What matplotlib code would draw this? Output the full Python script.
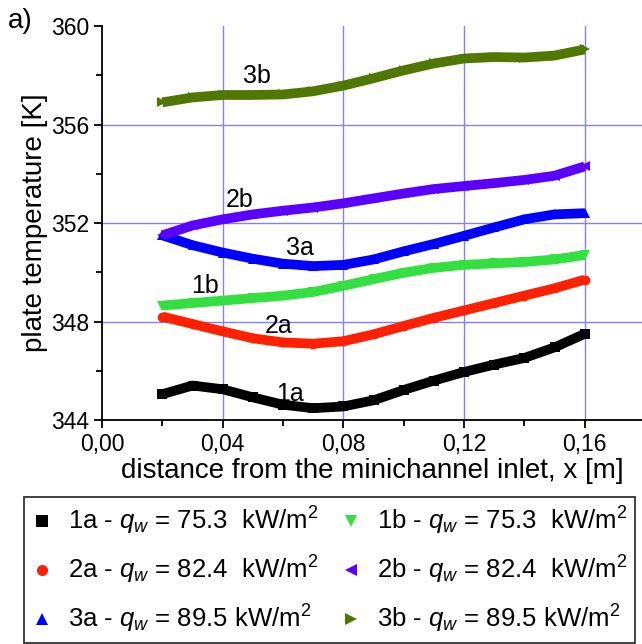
import matplotlib
matplotlib.use("Agg")
import matplotlib.pyplot as plt
from matplotlib.lines import Line2D

plt.rcParams['font.family'] = ['Liberation Sans', 'DejaVu Sans']
plt.rcParams['mathtext.fontset'] = 'custom'
plt.rcParams['mathtext.rm'] = 'Liberation Sans'
plt.rcParams['mathtext.it'] = 'Liberation Sans:italic'

# distance from inlet [m]
x = [0.02, 0.03, 0.04, 0.05, 0.06, 0.07, 0.08, 0.09, 0.10, 0.11, 0.12, 0.13, 0.14, 0.15, 0.16]

# plate temperature [K]
t_1a = [345.05, 345.40, 345.25, 344.92, 344.62, 344.48, 344.55, 344.80, 345.22, 345.60, 345.95, 346.25, 346.52, 346.95, 347.50]
t_2a = [348.20, 347.90, 347.60, 347.32, 347.15, 347.10, 347.20, 347.48, 347.82, 348.15, 348.45, 348.75, 349.05, 349.35, 349.70]
t_3a = [351.50, 351.10, 350.80, 350.55, 350.35, 350.25, 350.30, 350.52, 350.85, 351.15, 351.48, 351.82, 352.15, 352.35, 352.40]
t_1b = [348.65, 348.75, 348.85, 348.95, 349.05, 349.20, 349.45, 349.72, 349.98, 350.18, 350.30, 350.36, 350.42, 350.52, 350.70]
t_2b = [351.50, 351.90, 352.15, 352.35, 352.50, 352.63, 352.80, 353.00, 353.20, 353.38, 353.50, 353.62, 353.75, 353.92, 354.30]
t_3b = [356.90, 357.10, 357.20, 357.20, 357.22, 357.35, 357.58, 357.88, 358.20, 358.48, 358.68, 358.74, 358.72, 358.80, 359.05]

names = ['1a', '2a', '3a', '1b', '2b', '3b']
series = [t_1a, t_2a, t_3a, t_1b, t_2b, t_3b]
heat_flux = ['75.3  ', '82.4  ', '89.5 ', '75.3  ', '82.4  ', '89.5 ']
colors = ['#000000', '#ff2000', '#0000ff', '#33e040', '#5a00ff', '#507800']
markers = ['s', 'o', '^', 'v', '<', '>']

# curve labels
label_x = [0.0624, 0.0584, 0.0657, 0.034, 0.0455, 0.0515]
label_t = [345.05, 347.8, 350.98, 349.43, 352.93, 357.97]

fig = plt.figure(figsize=(6.42, 6.44), dpi=100)
ax = fig.add_axes([0.1589, 0.3478, 0.8411, 0.6118])

for t, c, m in zip(series, colors, markers):
    ax.plot(x, t, color=c, lw=7, solid_capstyle='butt', solid_joinstyle='round',
            marker=m, markersize=7, markeredgewidth=0, zorder=3)

for n, lx, lt in zip(names, label_x, label_t):
    ax.text(lx, lt, n, fontsize=18, ha='center', va='center', zorder=4)

ax.set_xlim(0, 0.179)
ax.set_ylim(344, 360)
ax.set_xticks([0.00, 0.04, 0.08, 0.12, 0.16])
ax.set_xticks([0.02, 0.06, 0.10, 0.14], minor=True)
ax.set_xticklabels(['0,00', '0,04', '0,08', '0,12', '0,16'])
ax.set_yticks([344, 348, 352, 356, 360])
ax.set_yticks([346, 350, 354, 358], minor=True)
ax.tick_params(which='major', direction='out', length=6, width=1.3, labelsize=16.5, pad=3)
ax.tick_params(which='minor', direction='out', length=4, width=1.3)

for xv in [0.04, 0.08, 0.12, 0.16]:
    ax.axvline(xv, color='#8080ff', lw=1, zorder=1)
for yv in [348, 352, 356]:
    ax.axhline(yv, color='#8080ff', lw=1, zorder=1)

ax.spines['top'].set_visible(False)
ax.spines['right'].set_visible(False)
ax.spines['left'].set_linewidth(1.3)
ax.spines['bottom'].set_linewidth(1.3)

ax.set_xlabel('distance from the minichannel inlet, x [m]', fontsize=20, labelpad=2)
ax.set_ylabel('plate temperature [K]', fontsize=20, labelpad=2)

fig.text(0.012, 0.988, 'a)', fontsize=20, ha='left', va='top')

handles = [Line2D([], [], ls='none', marker=m, color=c, markersize=8, markeredgewidth=0)
           for c, m in zip(colors, markers)]
labels = ['%s - $q_{w}$ = %skW/m$^2$' % (n, q) for n, q in zip(names, heat_flux)]
leg = fig.legend(handles, labels, ncol=2, loc='upper left',
                 bbox_to_anchor=(0.0374, 0.228, 0.952, 0.0), mode='expand',
                 borderaxespad=0, fontsize=18.5, frameon=True, fancybox=False,
                 edgecolor='black', handlelength=0.8, handletextpad=0.6,
                 labelspacing=0.66, borderpad=0.3)
leg.get_frame().set_linewidth(1.3)

fig.savefig('out.png', dpi=100, facecolor='white')
